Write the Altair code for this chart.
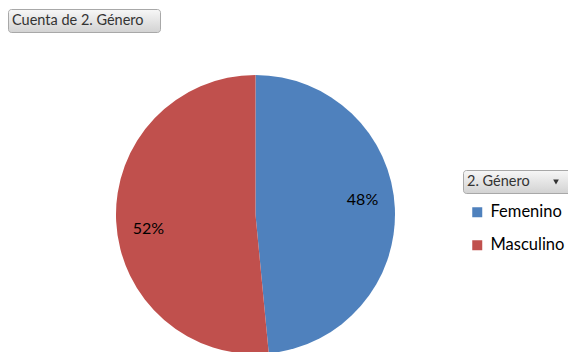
import altair as alt
import pandas as pd

# ---- data ----
categories = ["Femenino", "Masculino"]
counts = [32, 34]
colors = ["#4F81BD", "#C0504D"]
title_text = "Cuenta de 2. Género"
legend_title = "2. Género"

df = pd.DataFrame({"genero": categories, "count": counts, "idx": list(range(len(categories)))})

FONT = "Lato"
CX, CY, R = 255.5, 214.5, 139.5

base = alt.Chart(df).transform_joinaggregate(total="sum(count)").transform_calculate(
    pct="format(datum.count / datum.total, '.0%')"
)

pie = base.mark_arc(outerRadius=R).encode(
    theta=alt.Theta("count:Q", stack=True),
    color=alt.Color(
        "genero:N",
        scale=alt.Scale(domain=categories, range=colors),
        legend=alt.Legend(
            orient="none", legendX=469, legendY=204, title=None,
            symbolType="square", symbolSize=100, symbolStrokeWidth=0,
            labelFontSize=16.5, labelFont=FONT, labelColor="#000000",
            rowPadding=16, labelOffset=5,
        ),
    ),
    order=alt.Order("idx:Q"),
    x=alt.value(CX),
    y=alt.value(CY),
)

labels = base.mark_text(radius=108, fontSize=16, font=FONT, color="#000000", thetaOffset=-0.087).encode(
    theta=alt.Theta("count:Q", stack=True),
    detail="genero:N",
    order=alt.Order("idx:Q"),
    text="pct:N",
    x=alt.value(CX),
    y=alt.value(CY),
)

grad = alt.LinearGradient(
    gradient="linear", x1=0, y1=0, x2=0, y2=1,
    stops=[alt.GradientStop(offset=0, color="#f7f7f7"), alt.GradientStop(offset=1, color="#d2d2d2")],
)

tdf = pd.DataFrame({"t": [title_text]})
title_btn = alt.Chart(tdf).mark_rect(fill=grad, stroke="#a8a8a8", strokeWidth=1, cornerRadius=3).encode(
    x=alt.value(8.5), x2=alt.value(160.5), y=alt.value(9.5), y2=alt.value(32.5)
)
title_txt = alt.Chart(tdf).mark_text(align="left", baseline="middle", fontSize=14.5, font=FONT, color="#333333").encode(
    x=alt.value(12), y=alt.value(21), text="t:N"
)

ldf = pd.DataFrame({"t": [legend_title]})
leg_btn = alt.Chart(ldf).mark_rect(fill=grad, stroke="#a8a8a8", strokeWidth=1, cornerRadius=3).encode(
    x=alt.value(463.5), x2=alt.value(575), y=alt.value(170.5), y2=alt.value(193.5)
)
leg_txt = alt.Chart(ldf).mark_text(align="left", baseline="middle", fontSize=14.5, font=FONT, color="#333333").encode(
    x=alt.value(467), y=alt.value(182), text="t:N"
)
leg_arrow = alt.Chart(ldf).mark_point(shape="triangle-down", filled=True, size=32, color="#333333", opacity=1).encode(
    x=alt.value(556), y=alt.value(182)
)

chart = alt.layer(pie, labels, title_btn, title_txt, leg_btn, leg_txt, leg_arrow).properties(
    width=568, height=352, autosize="none", padding=0, background="white"
).configure_view(stroke=None)

chart.save("out.html", embed_options={"renderer": "svg", "actions": False})
